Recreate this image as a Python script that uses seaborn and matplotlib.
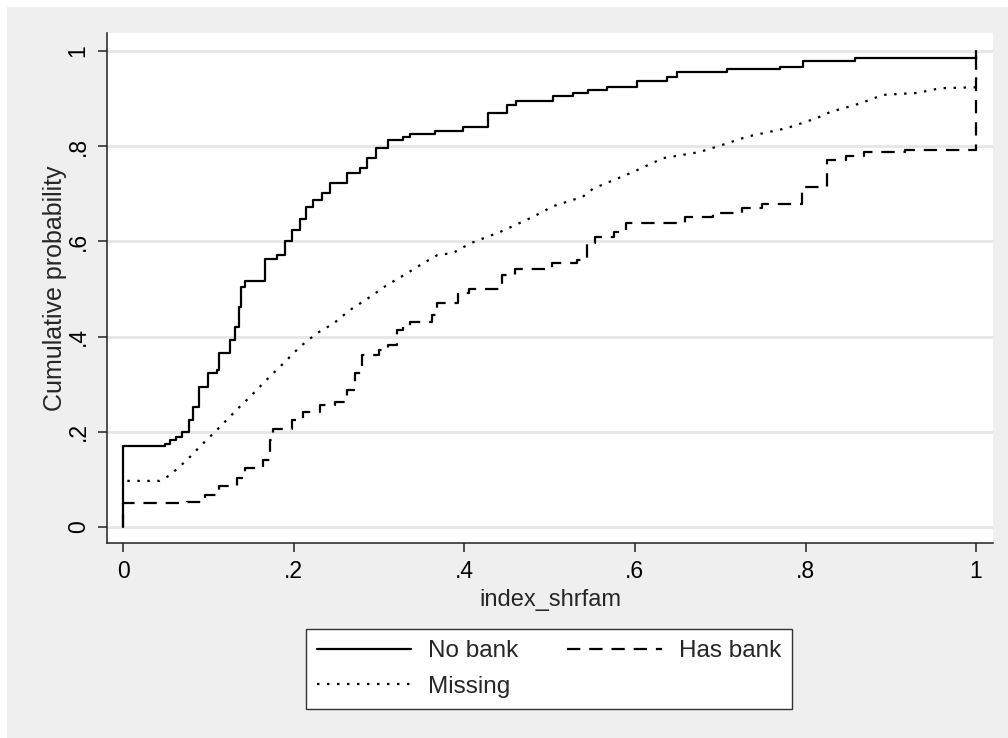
import matplotlib
matplotlib.use('Agg')
import matplotlib.pyplot as plt
from matplotlib.patches import Rectangle
import pandas as pd
import seaborn as sns

sns.set_theme(style='ticks')
plt.rcParams['font.family'] = ['Liberation Sans', 'DejaVu Sans']

no_bank_x = [0.0, 0.0, 0.049, 0.055, 0.062, 0.069, 0.077, 0.082, 0.089, 0.100, 0.110,
             0.112, 0.125, 0.131, 0.136, 0.138, 0.143, 0.166, 0.180, 0.190, 0.198,
             0.2075, 0.215, 0.223, 0.233, 0.243, 0.262, 0.278, 0.286, 0.297, 0.311,
             0.328, 0.336, 0.366, 0.399, 0.428, 0.450, 0.461, 0.504, 0.528, 0.545,
             0.567, 0.603, 0.638, 0.649, 0.708, 0.770, 0.797, 0.858, 1.0]
no_bank_y = [0.0, 0.171, 0.175, 0.182, 0.190, 0.200, 0.225, 0.253, 0.295, 0.323, 0.330,
             0.365, 0.393, 0.420, 0.463, 0.505, 0.517, 0.564, 0.571, 0.600, 0.624,
             0.648, 0.673, 0.687, 0.701, 0.722, 0.743, 0.754, 0.775, 0.796, 0.813,
             0.820, 0.826, 0.832, 0.841, 0.870, 0.887, 0.895, 0.905, 0.912, 0.919,
             0.925, 0.938, 0.946, 0.957, 0.962, 0.967, 0.980, 0.985, 1.0]

missing_x = [0.005, 0.043, 0.055, 0.075, 0.090, 0.110, 0.133, 0.149, 0.168, 0.188,
             0.2075, 0.227, 0.247, 0.266, 0.290, 0.309, 0.329, 0.348, 0.368, 0.387,
             0.407, 0.442, 0.481, 0.504, 0.539, 0.551, 0.598, 0.633, 0.676, 0.708,
             0.731, 0.778, 0.813, 0.829, 0.864, 0.891, 0.931, 0.958, 1.0, 1.0]
missing_y = [0.097, 0.097, 0.109, 0.141, 0.169, 0.204, 0.246, 0.274, 0.309, 0.344,
             0.379, 0.407, 0.428, 0.456, 0.484, 0.508, 0.529, 0.550, 0.571, 0.576,
             0.596, 0.620, 0.652, 0.674, 0.694, 0.711, 0.746, 0.775, 0.788, 0.806,
             0.820, 0.838, 0.859, 0.872, 0.890, 0.908, 0.912, 0.922, 0.924, 1.0]

has_bank_x = [0.0, 0.0, 0.075, 0.096, 0.112, 0.133, 0.143, 0.164, 0.172, 0.176, 0.198,
              0.211, 0.231, 0.249, 0.262, 0.272, 0.280, 0.300, 0.310, 0.321, 0.328,
              0.336, 0.362, 0.368, 0.393, 0.405, 0.444, 0.460, 0.503, 0.532, 0.544,
              0.553, 0.575, 0.590, 0.659, 0.692, 0.725, 0.749, 0.796, 0.825, 0.848,
              0.868, 0.917, 1.0]
has_bank_y = [0.0, 0.050, 0.053, 0.067, 0.087, 0.102, 0.125, 0.141, 0.183, 0.207, 0.225,
              0.242, 0.256, 0.263, 0.288, 0.323, 0.361, 0.372, 0.382, 0.414, 0.422,
              0.431, 0.445, 0.471, 0.491, 0.501, 0.529, 0.543, 0.555, 0.561, 0.596,
              0.610, 0.620, 0.638, 0.651, 0.660, 0.671, 0.679, 0.714, 0.771, 0.779,
              0.788, 0.793, 1.0]

tick_vals = [0, 0.2, 0.4, 0.6, 0.8, 1.0]
tick_labels = ['0', '.2', '.4', '.6', '.8', '1']

series = {
    'No bank': (no_bank_x, no_bank_y, '-', 'steps-post'),
    'Has bank': (has_bank_x, has_bank_y, (0, (6, 4)), 'steps-post'),
    'Missing': (missing_x, missing_y, (0, (1.1, 3.4)), 'default'),
}

fig = plt.figure(figsize=(10.08, 7.38), dpi=100, facecolor='#efefef')
fig.add_artist(Rectangle((0, 0), 7 / 1008, 1, transform=fig.transFigure,
                         facecolor='white', edgecolor='none'))
fig.add_artist(Rectangle((0, 1 - 7 / 738), 1, 7 / 738, transform=fig.transFigure,
                         facecolor='white', edgecolor='none'))
ax = fig.add_axes([0.1062, 0.2642, 0.8790, 0.6911])
ax.set_facecolor('white')

handles = {}
for name, (xs, ys, ls, ds) in series.items():
    df = pd.DataFrame({'x': xs, 'y': ys})
    sns.lineplot(data=df, x='x', y='y', ax=ax, estimator=None, sort=False,
                 color='black', linewidth=1.6, linestyle=ls, drawstyle=ds)
    handles[name] = ax.lines[-1]

if ax.get_legend() is not None:
    ax.get_legend().remove()

ax.set_xlim(-0.0188, 1.0199)
ax.set_ylim(-0.0336, 1.038)
ax.set_xticks(tick_vals)
ax.set_xticklabels(tick_labels)
ax.set_yticks(tick_vals)
ax.set_yticklabels(tick_labels)
ax.tick_params(axis='both', length=6.5, width=1.1, color='#222222', labelsize=16.5,
               labelcolor='black', pad=6)
ax.tick_params(axis='y', labelrotation=90, pad=6)
for lab in ax.get_yticklabels():
    lab.set_va('center')

ax.yaxis.grid(True, color='#e6e6e6', linewidth=2)
ax.xaxis.grid(False)
ax.set_axisbelow(True)
for side in ('top', 'right'):
    ax.spines[side].set_visible(False)
for side in ('left', 'bottom'):
    ax.spines[side].set_color('#222222')
    ax.spines[side].set_linewidth(1.1)

ax.set_xlabel('index_shrfam', fontsize=17, labelpad=4)
ax.set_ylabel('Cumulative probability', fontsize=18, labelpad=0)

order = ['No bank', 'Missing', 'Has bank']
leg = fig.legend([handles[k] for k in order], order, loc='center',
                 bbox_to_anchor=(0.5446, 0.0935), ncol=2, fontsize=17.5,
                 frameon=True, fancybox=False, edgecolor='#333333', facecolor='white',
                 framealpha=1, handlelength=3.9, handletextpad=0.7, columnspacing=2.0,
                 borderpad=0.45, labelspacing=0.55)
leg.get_frame().set_linewidth(1.0)

fig.savefig('out.png', dpi=100, facecolor=fig.get_facecolor())
